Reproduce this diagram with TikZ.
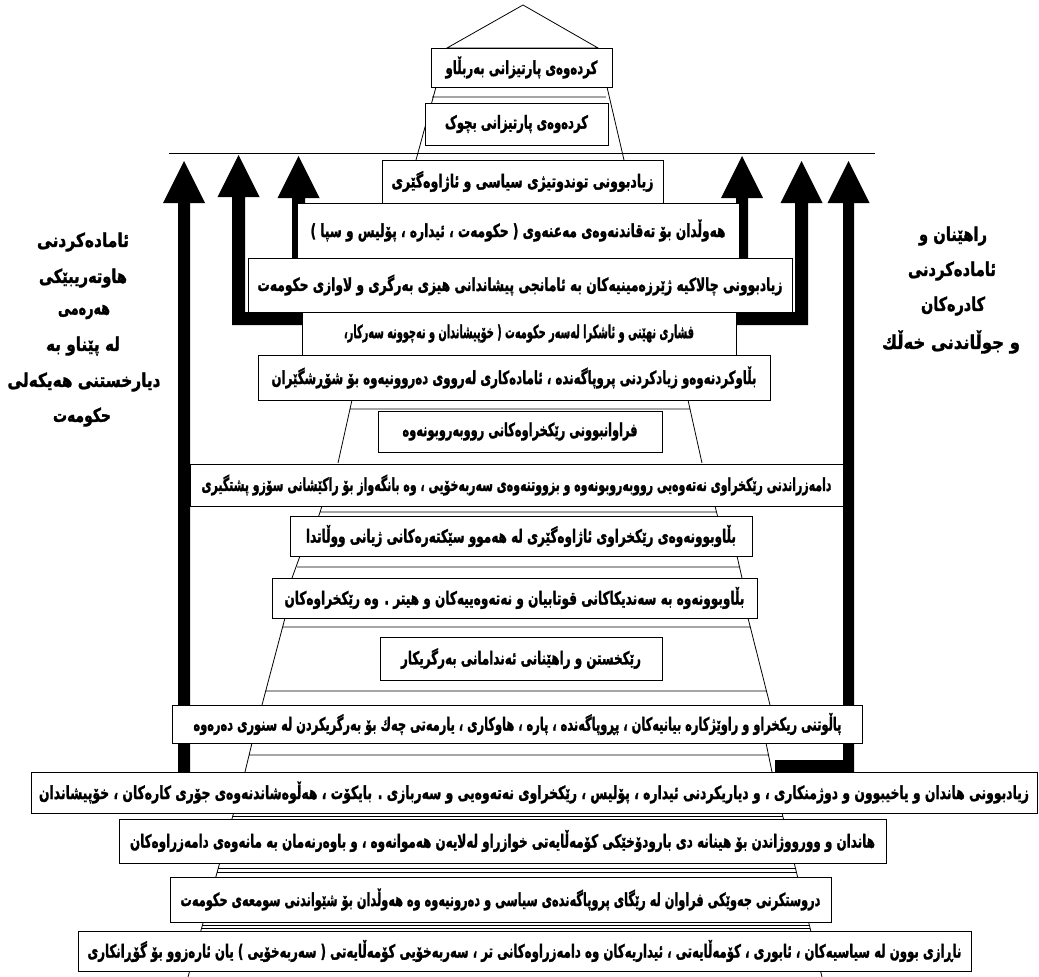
\documentclass[tikz,border=0pt]{standalone}
\usepackage{fontspec}
\usepackage{graphicx}
\TeXXeTstate=1
\newfontfamily\kufont[Script=Arabic,BoldFeatures={FakeBold=1.8}]{DejaVu Sans}
\newcommand\kt[2]{\resizebox{#1pt}{\height}{\kufont\bfseries #2}}
\begin{document}
\begin{tikzpicture}[x=1pt,y=-1pt,
  bx/.style={draw=black, line width=1pt, fill=white, inner sep=0pt, font=\fontsize{18}{20}\selectfont},
  pyr/.style={draw=black, line width=0.8pt},
  blk/.style={fill=black},
  side/.style={inner sep=0pt, font=\fontsize{19}{22}\selectfont}]
\useasboundingbox (0,0) rectangle (1039,977);
\fill[white] (0,0) rectangle (1039,977);
% pyramid outline
\draw[pyr] (523,5) -- (447,48) -- (598,48) -- cycle;
\draw[pyr] (436,87) -- (416,160) (607,87) -- (624,160) (432,97) -- (606,97);
\draw[pyr] (352,400) -- (338,463) (688,400) -- (702,463) (350,409) -- (690,409);
\draw[pyr] (322,506) -- (318,518) (715,506) -- (718,518) (320,512) -- (716,512);
\draw[pyr] (300,556) -- (292,578) (737,556) -- (742,578) (297,567) -- (740,567);
\draw[pyr] (285,618) -- (262,705) (748,618) -- (770,705) (283,627) -- (750,627) (266,691) -- (766,691);
\draw[pyr] (252,743) -- (245,772) (766,743) -- (772,772) (249,755) -- (769,755);
\draw[pyr] (245,772) -- (188,977) (772,772) -- (822,977);
\draw[pyr] (233,816) -- (783,816) (218,868) -- (795,868) (217,872) -- (796,872)
           (202,925) -- (809,925) (201,928) -- (810,928);
% long line
\draw[line width=1pt] (169,153) -- (875,153);
% block arrows
\fill[blk] (178,772) -- (178,203) -- (163,203) -- (184,161) -- (205,203) -- (190,203) -- (190,772) -- cycle;
\fill[blk] (232,325) -- (232,197) -- (217.5,197) -- (238.5,155) -- (259.5,197) -- (245,197) -- (245,312) -- (305,312) -- (305,325) -- cycle;
\fill[blk] (292,262) -- (292,198) -- (277.5,198) -- (298.5,156) -- (319.5,198) -- (305,198) -- (305,262) -- cycle;
\fill[blk] (736,262) -- (736,198) -- (721,198) -- (742,156) -- (763,198) -- (748,198) -- (748,262) -- cycle;
\fill[blk] (733,312) -- (795,312) -- (795,203) -- (780.5,203) -- (801.5,161) -- (822.5,203) -- (808,203) -- (808,325) -- (733,325) -- cycle;
\fill[blk] (775,760) -- (843,760) -- (843,203) -- (827.5,203) -- (848.5,161) -- (869.5,203) -- (854,203) -- (854,772) -- (775,772) -- cycle;
% boxes
\node[bx, minimum width=181pt, minimum height=39pt] (b1) at (521.5,67.5) {\kt{152}{\beginR کردەوەی پارتیزانی بەربڵاو\endR}};
\node[bx, minimum width=183pt, minimum height=42pt] (b2) at (516.5,124) {\kt{143}{\beginR کردەوەی پارتیزانی بچوک\endR}};
\node[bx, minimum width=281pt, minimum height=43pt] (b3) at (522.5,181.5) {\kt{262}{\beginR زیادبوونی توندوتیژی سیاسی و ئاژاوەگێری\endR}};
\node[bx, minimum width=442pt, minimum height=55pt] (b4) at (518,230.5) {\kt{415}{\beginR هەوڵدان بۆ تەقاندنەوەی مەعنەوی (  حکومەت ، ئیدارە ، پۆلیس و سپا )\endR}};
\node[bx, minimum width=544pt, minimum height=54pt] (b5) at (520,285) {\kt{525}{\beginR زیادبوونی چالاکیە ژێرزەمینیەکان  بە ئامانجی پیشاندانی هیزی بەرگری و لاوازی حکومەت\endR}};
\node[bx, minimum width=434pt, minimum height=43pt] (b6) at (519,333.5) {\kt{350}{\beginR فشاری نهێنی و ئاشکرا لەسەر حکومەت ( خۆپیشاندان و نەچوونە سەرکار،\endR}};
\node[bx, minimum width=512pt, minimum height=45pt] (b7) at (514,377.5) {\kt{485}{\beginR بڵاوکردنەوەو زیادکردنی پروپاگەندە ، ئامادەکاری لەرووی دەروونیەوە بۆ شۆڕشگێران\endR}};
\node[bx, minimum width=284pt, minimum height=41pt] (b8) at (520,431.5) {\kt{235}{\beginR فراوانبوونی رێکخراوەکانی رووبەروبونەوە\endR}};
\node[bx, minimum width=653pt, minimum height=42pt] (b9) at (516.5,485) {\kt{630}{\beginR دامەزراندنی رێکخراوی نەتەوەیی رووبەروبونەوە و بزووتنەوەی سەربەخۆیی ، وە بانگەواز بۆ راکێشانی سۆزو پشتگیری\endR}};
\node[bx, minimum width=462pt, minimum height=40pt] (b10) at (521,536) {\kt{430}{\beginR بڵاوبوونەوەی رێکخراوی ئاژاوەگێری لە هەموو سێکتەرەکانی ژیانی ووڵاتدا\endR}};
\node[bx, minimum width=485pt, minimum height=40pt] (b11) at (514.5,598) {\kt{460}{\beginR بڵاوبوونەوە بە سەندیکاکانی قوتابیان و نەتەوەییەکان و هیتر . وە رێکخراوەکان\endR}};
\node[bx, minimum width=282pt, minimum height=43pt] (b12) at (521,658.5) {\kt{240}{\beginR رێکخستن و راهێنانی ئەندامانی بەرگریکار\endR}};
\node[bx, minimum width=690pt, minimum height=38pt] (b13) at (517.5,724) {\kt{648}{\beginR پاڵوتنی ریکخراو و راوێژکارە بیانیەکان ، پڕوپاگەندە ، پارە ، هاوکاری ، یارمەتی چەك بۆ بەرگریکردن لە سنوری دەرەوە\endR}};
\node[bx, minimum width=1006pt, minimum height=41pt] (b14) at (534,792.5) {\kt{990}{\beginR زیادبوونی هاندان و یاخیبوون و دوژمنکاری ، و دیاریکردنی ئیدارە ، پۆلیس ، رێکخراوی نەتەوەیی و سەربازی . بایکۆت ، هەڵوەشاندنەوەی جۆری کارەکان ، خۆپیشاندان\endR}};
\node[bx, minimum width=767pt, minimum height=44pt] (b15) at (502.5,841) {\kt{745}{\beginR هاندان و وورووژاندن بۆ هینانە دی بارودۆخێکی کۆمەڵایەتی خوازراو لەلایەن هەموانەوە ، و باوەرنەمان بە مانەوەی دامەزراوەکان\endR}};
\node[bx, minimum width=661pt, minimum height=45pt] (b16) at (500.5,899.5) {\kt{640}{\beginR دروستکرنی جەوێکی فراوان لە رێگای پروپاگەندەی سیاسی و دەرونیەوە وە هەوڵدان بۆ شێواندنی سومعەی حکومەت\endR}};
\node[bx, minimum width=893pt, minimum height=40pt] (b17) at (524.5,951) {\kt{874}{\beginR ناڕازی بوون لە سیاسیەکان ، ئابوری ، کۆمەڵایەتی ، ئیداریەکان وە دامەزراوەکانی تر ، سەربەخۆیی کۆمەڵایەتی ( سەربەخۆیی ) یان ئارەزوو بۆ گۆڕانکاری\endR}};
% side labels
\node[side] (l1) at (83,242) {\kt{92}{\beginR ئامادەکردنی\endR}};
\node[side] (l2) at (83,278) {\kt{88}{\beginR هاوتەریبێکی\endR}};
\node[side] (l3) at (84,312) {\kt{52}{\beginR هەرەمی\endR}};
\node[side] (l4) at (83,346) {\kt{74}{\beginR لە پێناو بە\endR}};
\node[side] (l5) at (84,382) {\kt{153}{\beginR دیارخستنی هەیکەلی\endR}};
\node[side] (l6) at (82,417) {\kt{58}{\beginR حکومەت\endR}};
\node[side] (r1) at (953,236) {\kt{68}{\beginR راهێنان و\endR}};
\node[side] (r2) at (952,271) {\kt{88}{\beginR ئامادەکردنی\endR}};
\node[side] (r3) at (953,306) {\kt{64}{\beginR کادرەکان\endR}};
\node[side] (r4) at (951,342) {\kt{138}{\beginR و جوڵاندنی خەڵك\endR}};
\end{tikzpicture}
\end{document}
